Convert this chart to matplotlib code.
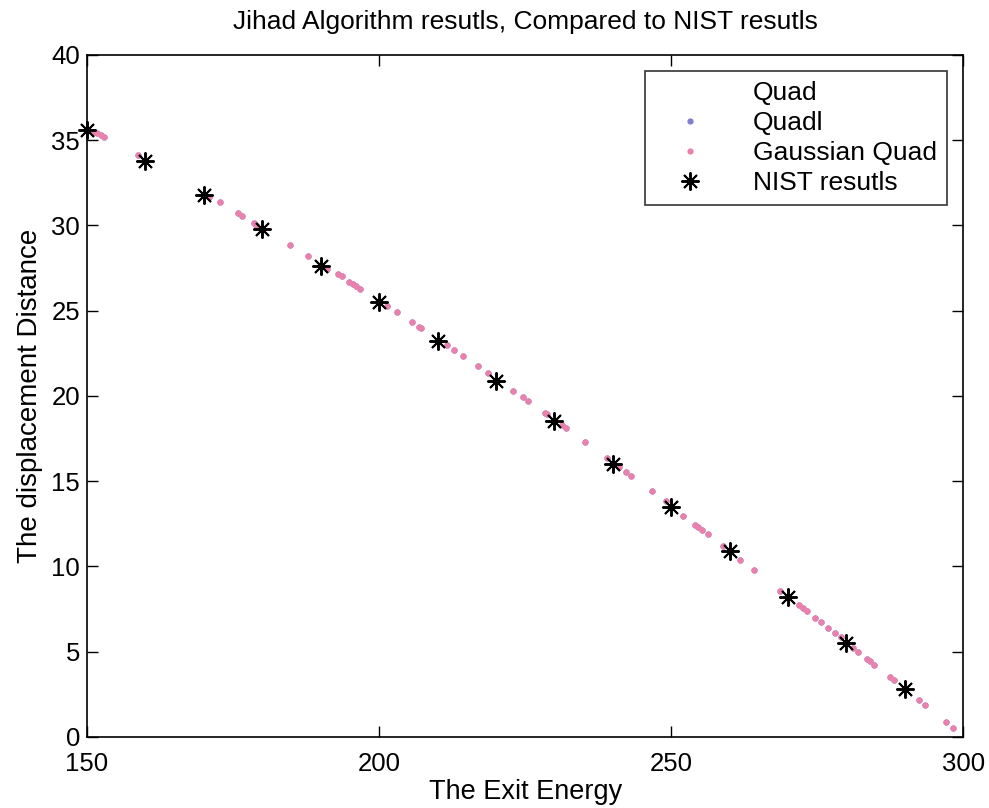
import matplotlib.pyplot as plt
import numpy as np

plt.rcParams['font.family'] = ['Liberation Sans', 'DejaVu Sans']

# NIST reference values
nist_energy = [150, 160, 170, 180, 190, 200, 210, 220, 230, 240, 250, 260, 270, 280, 290]
nist_dist = [35.6, 33.8, 31.8, 29.8, 27.6, 25.5, 23.2, 20.9, 18.5, 16.0, 13.5, 10.9, 8.2, 5.5, 2.8]

# algorithm results (all three methods overlap)
algo_energy = [151.2, 151.7, 152.4, 152.9, 158.7, 170.9, 172.8, 175.9, 176.6, 178.5,
               179.0, 184.8, 187.9, 191.0, 192.9, 193.6, 194.9, 195.6, 196.1, 196.7,
               201.4, 203.0, 205.7, 206.8, 207.1, 211.6, 212.8, 214.3, 216.9, 218.6,
               222.9, 224.6, 225.5, 228.4, 228.7, 231.3, 232.0, 235.3, 239.0, 241.1,
               242.3, 243.1, 246.7, 249.1, 252.1, 254.1, 254.6, 255.3, 256.3, 258.9,
               261.8, 264.2, 268.6, 271.8, 272.6, 273.2, 274.7, 275.7, 276.9, 278.0,
               279.0, 281.2, 281.9, 283.6, 284.1, 284.8, 287.4, 288.1, 292.4, 293.4,
               297.0, 298.2]
algo_dist = [35.50, 35.44, 35.33, 35.21, 34.15, 31.69, 31.40, 30.70, 30.58, 30.17,
             30.05, 28.88, 28.18, 27.45, 27.18, 27.01, 26.71, 26.54, 26.42, 26.30,
             25.25, 24.90, 24.31, 24.02, 23.96, 22.96, 22.67, 22.32, 21.73, 21.32,
             20.27, 19.92, 19.68, 18.98, 18.92, 18.28, 18.10, 17.28, 16.34, 15.82,
             15.52, 15.29, 14.41, 13.83, 12.95, 12.42, 12.30, 12.13, 11.89, 11.19,
             10.37, 9.78, 8.55, 7.73, 7.56, 7.38, 6.97, 6.74, 6.39, 6.09,
             5.86, 5.21, 4.98, 4.57, 4.45, 4.22, 3.51, 3.34, 2.17, 1.87,
             0.88, 0.53]

fig = plt.figure(figsize=(9.89, 8.08), dpi=100)
ax = fig.add_axes([0.088, 0.088, 0.886, 0.844])

ax.plot(algo_energy, algo_dist, 'o', color='white', markersize=2, label='Quad')
ax.plot(algo_energy, algo_dist, 'o', color='#7f7fcc', markersize=4.5, mew=0, label='Quadl')
ax.plot(algo_energy, algo_dist, 'o', color='#ec80ac', markersize=4.5, mew=0, label='Gaussian Quad')
ax.plot(nist_energy, nist_dist, linestyle='none', marker=(8, 2, 0), color='black',
        markersize=13, mew=1.4, label='NIST resutls', clip_on=False)

ax.set_xlim(150, 300)
ax.set_ylim(0, 40)
ax.set_xticks(np.arange(150, 301, 50))
ax.set_yticks(np.arange(0, 41, 5))
ax.tick_params(direction='in', length=8, width=1, labelsize=18.5, top=True, right=True, pad=5)
ax.tick_params(axis='x', pad=11)
for s in ax.spines.values():
    s.set_linewidth(1.2)

ax.set_title('Jihad Algorithm resutls, Compared to NIST resutls', fontsize=19, pad=19)
ax.set_xlabel('The Exit Energy', fontsize=19.5, labelpad=2)
ax.set_ylabel('The displacement Distance', fontsize=20, labelpad=6)

leg = ax.legend(loc='upper right', fontsize=19, frameon=True, fancybox=False,
                edgecolor='black', borderaxespad=0.6, handlelength=2.6,
                handletextpad=1.1, labelspacing=0.22, borderpad=0.4)
leg.get_frame().set_linewidth(1.2)

fig.savefig('out.png', dpi=100)
